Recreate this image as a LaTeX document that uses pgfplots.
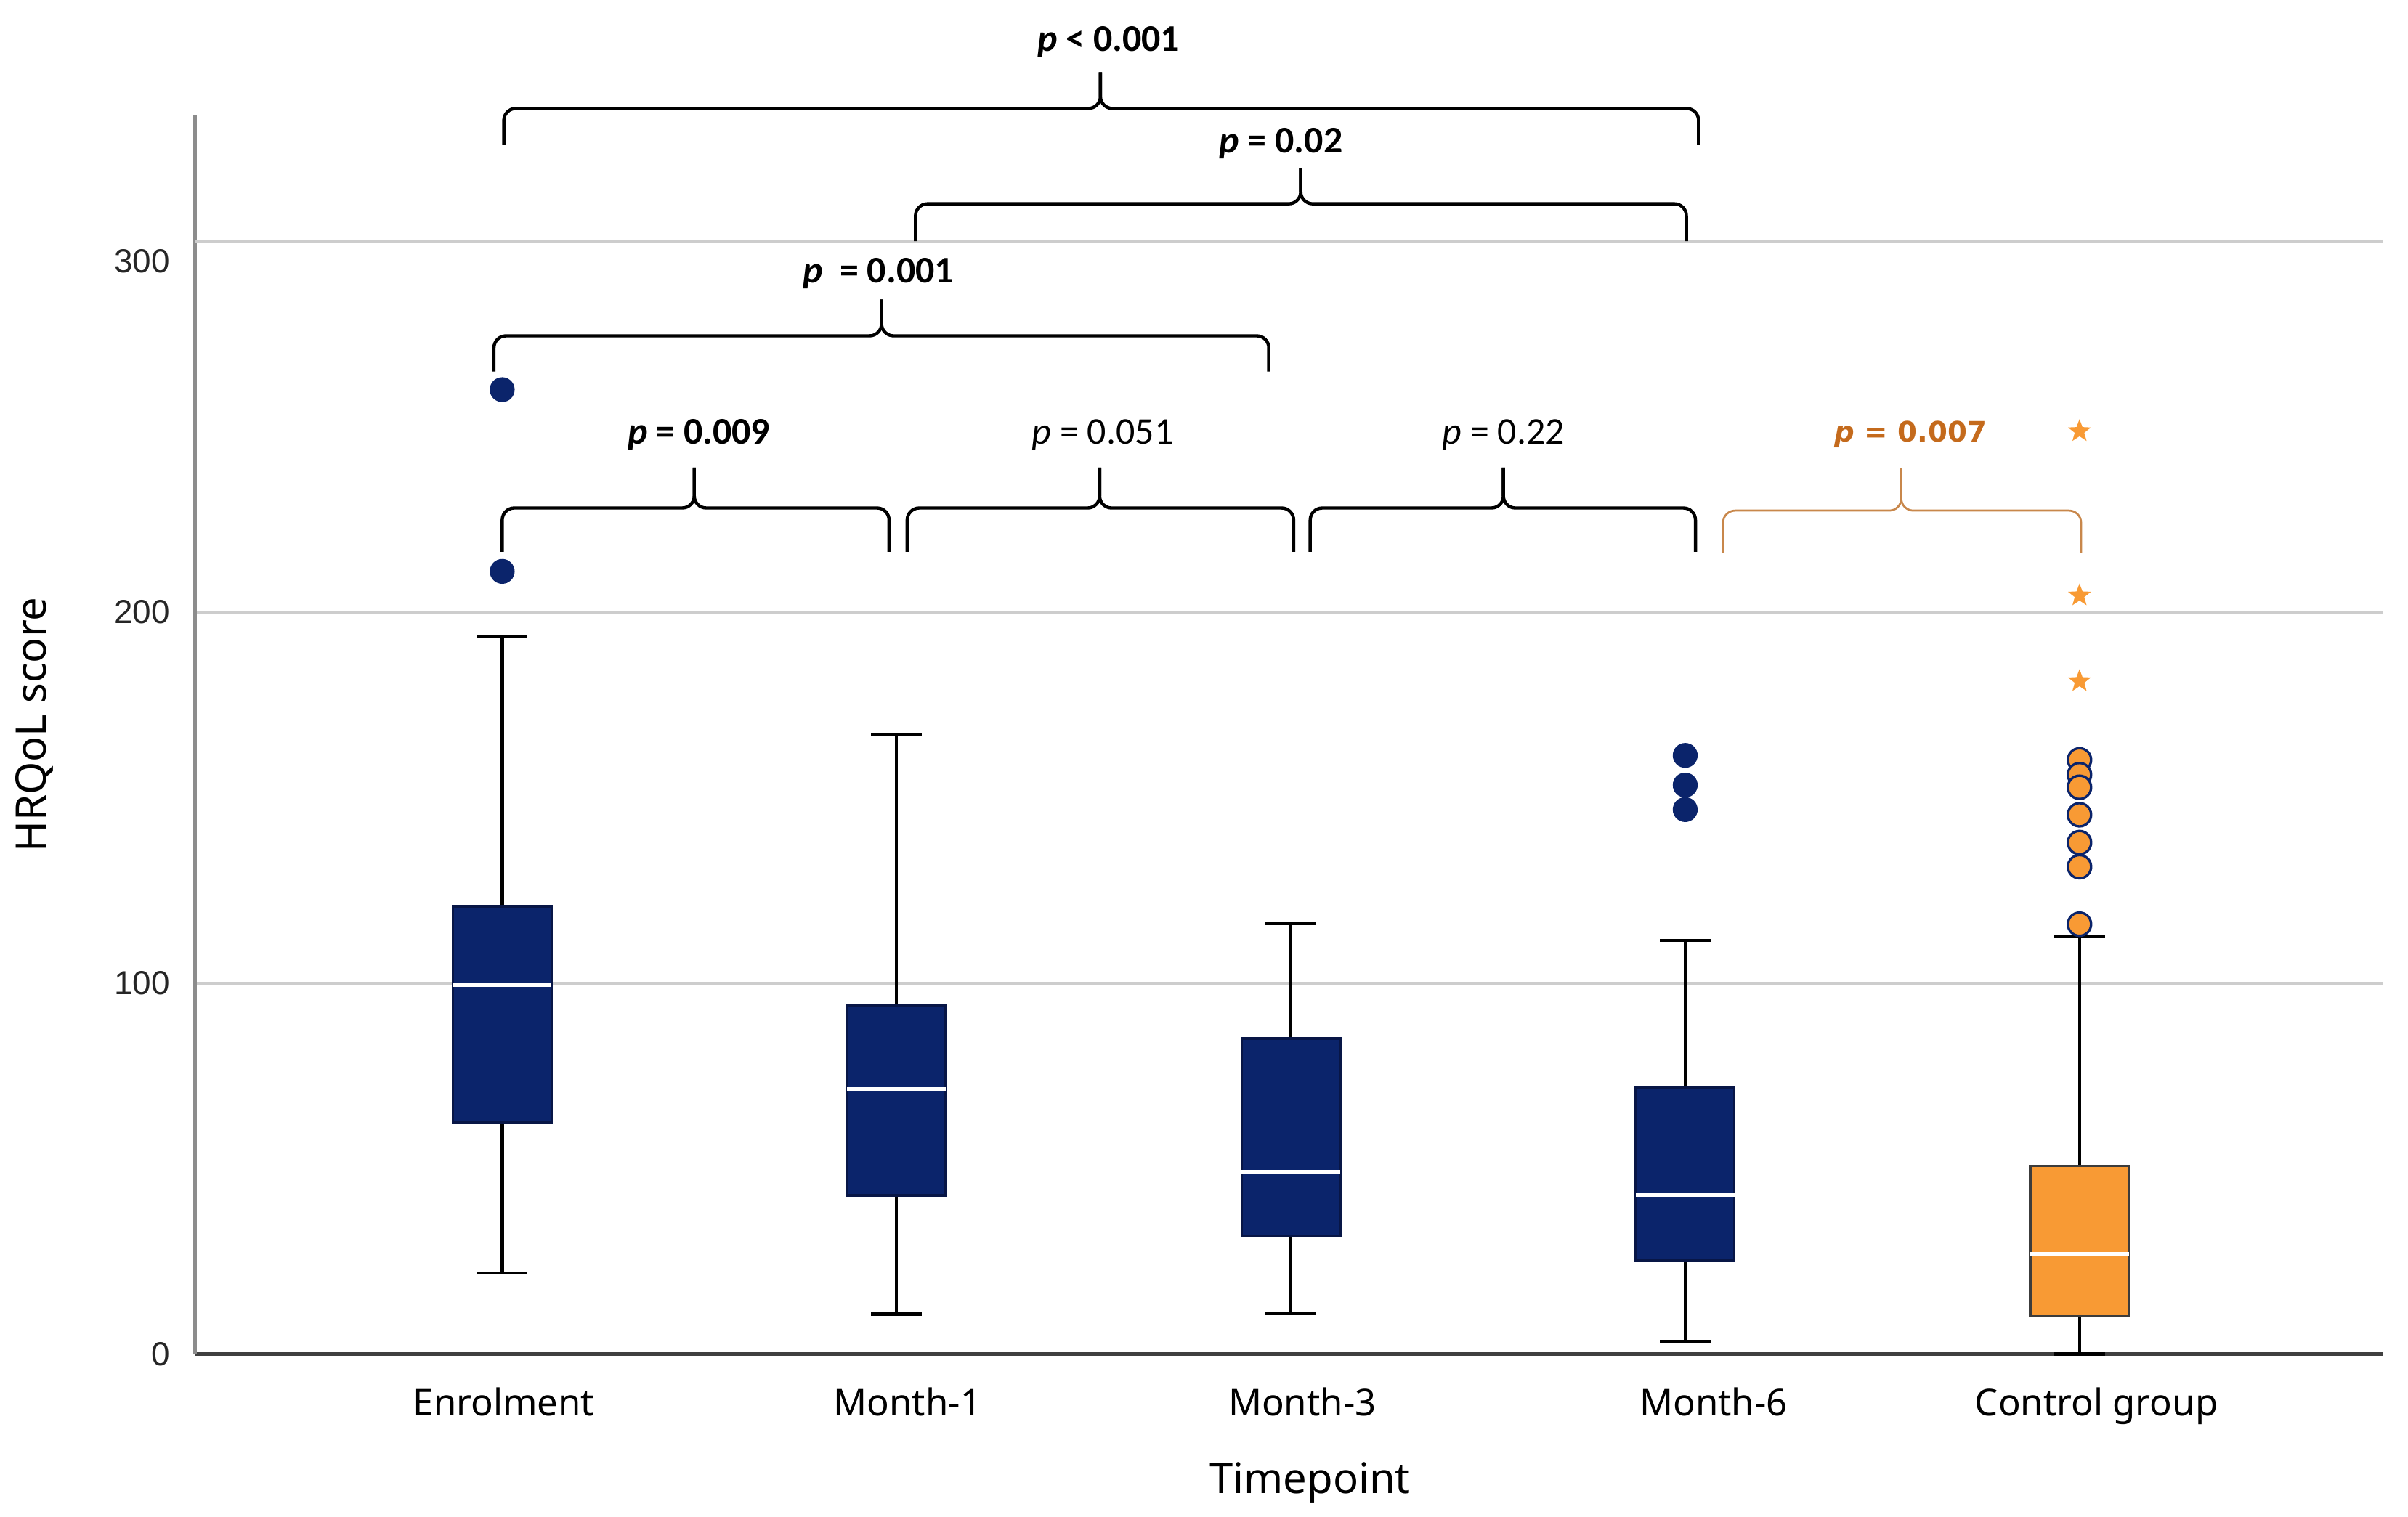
\documentclass[border=0pt]{standalone}
\usepackage{pgfplots}
\pgfplotsset{compat=1.18}
\usepgfplotslibrary{statistics}
\usepackage{fontspec}
\setmainfont{Noto Sans}
\newfontfamily\pfont{Carlito}
\newfontfamily\numfont{Liberation Sans}
\newfontfamily\vfont{DejaVu Sans}

\definecolor{navy}{RGB}{11,36,107}
\definecolor{navyedge}{RGB}{8,22,70}
\definecolor{ctrl}{RGB}{248,154,52}
\definecolor{ctrledge}{RGB}{60,60,60}
\definecolor{ctrltext}{RGB}{196,106,28}
\definecolor{ctrlline}{RGB}{200,135,75}
\definecolor{gridgray}{RGB}{205,205,205}

% filled five-pointed star
\pgfdeclareplotmark{fstar}{%
  \pgfpathmoveto{\pgfqpoint{0pt}{\pgfplotmarksize}}%
  \pgfpathlineto{\pgfqpoint{-0.247\pgfplotmarksize}{0.340\pgfplotmarksize}}%
  \pgfpathlineto{\pgfqpoint{-0.951\pgfplotmarksize}{0.309\pgfplotmarksize}}%
  \pgfpathlineto{\pgfqpoint{-0.399\pgfplotmarksize}{-0.130\pgfplotmarksize}}%
  \pgfpathlineto{\pgfqpoint{-0.588\pgfplotmarksize}{-0.809\pgfplotmarksize}}%
  \pgfpathlineto{\pgfqpoint{0pt}{-0.420\pgfplotmarksize}}%
  \pgfpathlineto{\pgfqpoint{0.588\pgfplotmarksize}{-0.809\pgfplotmarksize}}%
  \pgfpathlineto{\pgfqpoint{0.399\pgfplotmarksize}{-0.130\pgfplotmarksize}}%
  \pgfpathlineto{\pgfqpoint{0.951\pgfplotmarksize}{0.309\pgfplotmarksize}}%
  \pgfpathlineto{\pgfqpoint{0.247\pgfplotmarksize}{0.340\pgfplotmarksize}}%
  \pgfpathclose
  \pgfusepathqfill}

% bracket: [style]{left}{right}{tip x}{bottom}{bar}{tip}
\newcommand{\pbr}[7][black]{%
  \draw[line width=0.8pt, rounded corners=3pt, #1] (axis cs:#2,#5) -- (axis cs:#2,#6) -- (axis cs:#4,#6) -- (axis cs:#4,#7);
  \draw[line width=0.8pt, rounded corners=3pt, #1] (axis cs:#3,#5) -- (axis cs:#3,#6) -- (axis cs:#4,#6) -- (axis cs:#4,#7);
}

\pgfplotsset{
  navybox/.style={draw=navyedge, line width=0.6pt, fill=navy,
    boxplot/every median/.style={draw=white, line width=1pt},
    boxplot/every whisker/.style={draw=black, line width=0.8pt}},
  ctrlbox/.style={draw=ctrledge, line width=0.6pt, fill=ctrl,
    boxplot/every median/.style={draw=white, line width=1pt},
    boxplot/every whisker/.style={draw=black, line width=0.8pt}},
}

\begin{document}
\begin{tikzpicture}
\begin{axis}[
    scale only axis,
    width=545.3pt, height=308.8pt,
    xmin=-0.779, xmax=4.771,
    ymin=0, ymax=334,
    clip=false,
    boxplot/draw direction=y,
    boxplot/box extend=0.25,
    boxplot/whisker extend=0.128,
    axis x line*=bottom, axis y line*=left,
    separate axis lines,
    x axis line style={draw=black!75, line width=0.8pt},
    y axis line style={draw=black!45, line width=1pt},
    ytick={0,100,200},
    extra y ticks={300},
    extra y tick style={grid=major, yticklabel style={yshift=-4.9pt}},
    xtick={0.004,1.028,2.029,3.072,4.043},
    xticklabels={Enrolment,Month-1,Month-3,Month-6,Control group},
    tick style={draw=none},
    ymajorgrids=true,
    grid style={draw=gridgray, line width=0.6pt},
    /pgf/number format/assume math mode=true,
    yticklabel style={font=\numfont\fontsize{8.3}{9}\selectfont, text=black!85, anchor=east, inner sep=0pt, xshift=-6.1pt},
    xticklabel style={font=\fontsize{9.2}{11}\selectfont, anchor=base, inner sep=0pt, yshift=-15.3pt},
    xlabel={Timepoint},
    xlabel style={font=\fontsize{10.5}{12}\selectfont, at={(axis description cs:0.5095,0)}, anchor=base, yshift=-34.8pt},
    ylabel={HRQoL score},
    ylabel style={font=\fontsize{10.5}{12}\selectfont, at={(axis description cs:-0.068,0.508)}, anchor=base},
]

\addplot[navybox, boxplot prepared={draw position=0,
    lower whisker=21.9, lower quartile=62.4, median=99.6,
    upper quartile=120.7, upper whisker=193.4}] coordinates {};
\addplot[navybox, boxplot prepared={draw position=1,
    lower whisker=10.8, lower quartile=42.8, median=71.5,
    upper quartile=93.9, upper whisker=167.0}] coordinates {};
\addplot[navybox, boxplot prepared={draw position=2,
    lower whisker=10.9, lower quartile=31.8, median=49.2,
    upper quartile=85.1, upper whisker=116.1}] coordinates {};
\addplot[navybox, boxplot prepared={draw position=3,
    lower whisker=3.5, lower quartile=25.2, median=42.8,
    upper quartile=72.0, upper whisker=111.5}] coordinates {};
\addplot[ctrlbox, boxplot prepared={draw position=4,
    lower whisker=0, lower quartile=10.2, median=27.1,
    upper quartile=50.8, upper whisker=112.5}] coordinates {};

% outliers
\addplot[only marks, mark=*, mark size=2.9pt, mark options={fill=navy, draw=navy}]
    coordinates {(0,260.0) (0,211.0) (3,161.4) (3,153.4) (3,146.8)};
\addplot[only marks, mark=*, mark size=2.9pt, mark options={fill=ctrl, draw=navy, line width=0.6pt}]
    coordinates {(4,160.2) (4,156.2) (4,152.8) (4,145.4) (4,137.9) (4,131.4) (4,115.9)};
\addplot[only marks, mark=fstar, mark size=3pt, mark options={fill=ctrl, draw=ctrl}]
    coordinates {(4,248.8) (4,204.5) (4,181.4)};

% brackets
\pbr{0.004}{3.034}{1.517}{326.0}{335.8}{345.6}
\pbr{1.048}{3.003}{2.025}{300.0}{310.1}{319.8}
\pbr{-0.021}{1.944}{0.962}{264.9}{274.5}{284.3}
\pbr{0}{0.981}{0.487}{216.3}{228.1}{239.0}
\pbr{1.027}{2.007}{1.515}{216.3}{228.1}{239.0}
\pbr{2.049}{3.026}{2.539}{216.3}{228.1}{239.0}
\pbr[ctrlline, line width=0.5pt]{3.096}{4.004}{3.548}{216.1}{227.4}{238.8}

\node[font=\pfont\bfseries\fontsize{9.4}{11}\selectfont] at (axis cs:1.538,353.7) {\textit{p} < 0.001};
\node[font=\pfont\bfseries\fontsize{9.4}{11}\selectfont] at (axis cs:1.975,326.4) {\textit{p} = 0.02};
\node[font=\pfont\bfseries\fontsize{9.4}{11}\selectfont] at (axis cs:0.954,291.3) {\textit{p}\ \ = 0.001};
\node[font=\pfont\bfseries\fontsize{9.4}{11}\selectfont] at (axis cs:0.499,247.9) {\textit{p} = 0.009};
\node[font=\pfont\fontsize{9.4}{11}\selectfont] at (axis cs:1.523,247.9) {\textit{p} = 0.051};
\node[font=\pfont\fontsize{9.4}{11}\selectfont] at (axis cs:2.539,247.9) {\textit{p} = 0.22};
\node[font=\vfont\bfseries\fontsize{7}{9}\selectfont, text=ctrltext] at (axis cs:3.572,247.9) {\textit{p} = 0.007};

\end{axis}
\pgfresetboundingbox
\path (-48.6pt,-40.5pt) rectangle (551.4pt,337.5pt);
\end{tikzpicture}
\end{document}
